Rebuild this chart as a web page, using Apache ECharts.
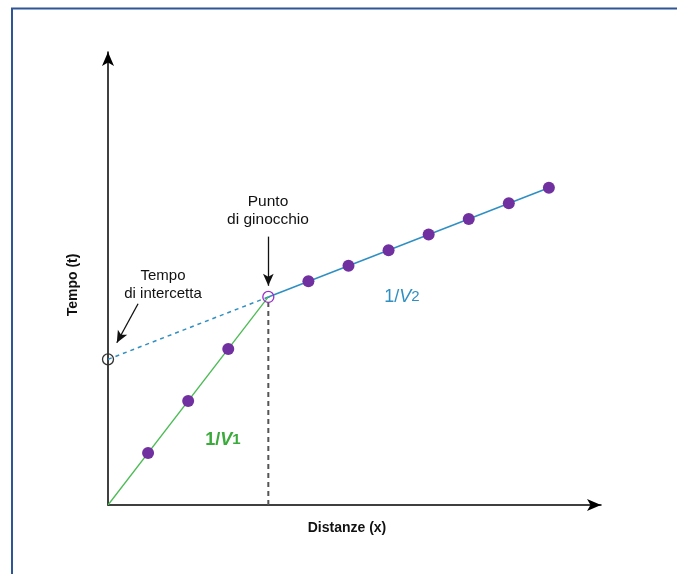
<!DOCTYPE html>
<html><head><meta charset="utf-8">
<script src="https://cdn.jsdelivr.net/npm/echarts@6/dist/echarts.min.js"></script>
<style>html,body{margin:0;padding:0;background:#fff}#c{width:677px;height:574px}</style>
</head><body><div id="c"></div>
<script>
// ---- data ----
const xGreen = [1, 2, 3];
const tGreen = [1, 2, 3];
const kneeX = 4;
const kneeT = 4;
const xBlue = [5, 6, 7, 8, 9, 10, 11];
const tBlue = [4.3, 4.6, 4.9, 5.2, 5.5, 5.8, 6.1];
const interceptT = 2.8;
const xMax = 12.3;
const tMax = 8.71;
const xTitle = 'Distanze (x)';
const yTitle = 'Tempo (t)';
const kneeLabel = 'Punto\ndi ginocchio';
const interceptLabel = 'Tempo\ndi intercetta';

const F = '"Liberation Sans", Arial, sans-serif';
const PURPLE = '#7030a0';
const GREEN = '#4cbb55';
const BLUE = '#2f8fc2';

const chart = echarts.init(document.getElementById('c'), null, {renderer: 'canvas'});
const lastX = xBlue[xBlue.length - 1], lastT = tBlue[tBlue.length - 1];

const option = {
  backgroundColor: '#fff',
  animation: false,
  grid: {left: 108, right: 76, top: 52, bottom: 69, containLabel: false},
  xAxis: {
    type: 'value', min: 0, max: xMax,
    axisLine: {show: true, onZero: false, lineStyle: {color: '#000', width: 1.5},
      symbol: ['none', 'arrow'], symbolSize: [9, 14], symbolOffset: [0, 0]},
    axisTick: {show: false}, axisLabel: {show: false}, splitLine: {show: false}
  },
  yAxis: {
    type: 'value', min: 0, max: tMax,
    axisLine: {show: true, onZero: false, lineStyle: {color: '#000', width: 1.5},
      symbol: ['none', 'arrow'], symbolSize: [9, 14], symbolOffset: [0, 0]},
    axisTick: {show: false}, axisLabel: {show: false}, splitLine: {show: false}
  },
  series: [
    { // vertical dashed line from knee
      type: 'line', silent: true, symbol: 'none', z: 1,
      data: [[kneeX, 0], [kneeX, kneeT]],
      lineStyle: {color: '#555', width: 2, type: [5, 4]}
    },
    { // intercept dashed line
      type: 'line', silent: true, symbol: 'none', z: 2,
      data: [[0, interceptT], [kneeX, kneeT]],
      lineStyle: {color: BLUE, width: 1.5, type: [4, 4]}
    },
    { // green line
      type: 'line', silent: true, symbol: 'none', z: 2,
      data: [[0, 0], [kneeX, kneeT]],
      lineStyle: {color: GREEN, width: 1.3}
    },
    { // blue line
      type: 'line', silent: true, symbol: 'none', z: 2,
      data: [[kneeX, kneeT], [lastX, lastT]],
      lineStyle: {color: BLUE, width: 1.5}
    },
    { // dots
      type: 'scatter', silent: true, z: 3, symbol: 'circle', symbolSize: 12,
      itemStyle: {color: PURPLE, opacity: 1},
      data: xGreen.map((x, i) => [x, tGreen[i]]).concat(xBlue.map((x, i) => [x, tBlue[i]]))
    },
    { // knee circle
      type: 'scatter', silent: true, z: 4, symbol: 'circle', symbolSize: 11,
      itemStyle: {color: 'rgba(255,255,255,0)', borderColor: '#9b30c8', borderWidth: 1.3, opacity: 1},
      data: [[kneeX, kneeT]]
    },
    { // intercept circle
      type: 'scatter', silent: true, z: 4, symbol: 'circle', symbolSize: 11,
      itemStyle: {color: 'rgba(255,255,255,0)', borderColor: '#333', borderWidth: 1.3, opacity: 1},
      data: [[0, interceptT]]
    },
    { // annotation arrows
      type: 'line', silent: true, data: [], z: 5,
      markLine: {
        silent: true, animation: false,
        symbol: ['none', 'arrow'], symbolSize: [8, 12],
        label: {show: false},
        lineStyle: {color: '#111', width: 1.3, type: 'solid'},
        emphasis: {disabled: true},
        data: [
          [{coord: [kneeX, 5.16]}, {coord: [kneeX, 4.215]}],
          [{coord: [0.75, 3.87]}, {coord: [0.22, 3.12]}]
        ]
      }
    }
  ],
  graphic: [
    {type: 'rect', silent: true, shape: {x: 12, y: 8.5, width: 720, height: 620},
      style: {fill: 'none', stroke: '#2e5596', lineWidth: 2}},
    {type: 'text', silent: true, x: 347, y: 528,
      style: {text: xTitle, font: 'bold 14px ' + F, fill: '#111', align: 'center', verticalAlign: 'middle'}},
    {type: 'text', silent: true, x: 73, y: 285, rotation: Math.PI / 2,
      style: {text: yTitle, font: 'bold 14px ' + F, fill: '#111', align: 'center', verticalAlign: 'middle'}},
    {type: 'text', silent: true, x: 163, y: 285,
      style: {text: interceptLabel, font: '15px ' + F, fill: '#111', align: 'center', verticalAlign: 'middle', lineHeight: 18}},
    {type: 'text', silent: true, x: 268, y: 211,
      style: {text: kneeLabel, font: '15.5px ' + F, fill: '#111', align: 'center', verticalAlign: 'middle', lineHeight: 18}},
    {type: 'text', silent: true, x: 223, y: 440,
      style: {text: '{a|1/}{b|V}{c|1}', align: 'center', verticalAlign: 'middle',
        rich: {
          a: {font: 'bold 18px ' + F, fill: '#3aaa3a'},
          b: {font: 'italic bold 18px ' + F, fill: '#3aaa3a'},
          c: {font: 'bold 15px ' + F, fill: '#3aaa3a'}
        }}},
    {type: 'text', silent: true, x: 402, y: 297,
      style: {text: '{a|1/}{b|V}{c|2}', align: 'center', verticalAlign: 'middle',
        rich: {
          a: {font: '18px ' + F, fill: BLUE},
          b: {font: 'italic 18px ' + F, fill: BLUE},
          c: {font: '15px ' + F, fill: BLUE}
        }}}
  ]
};
chart.setOption(option);
</script>
</body></html>
